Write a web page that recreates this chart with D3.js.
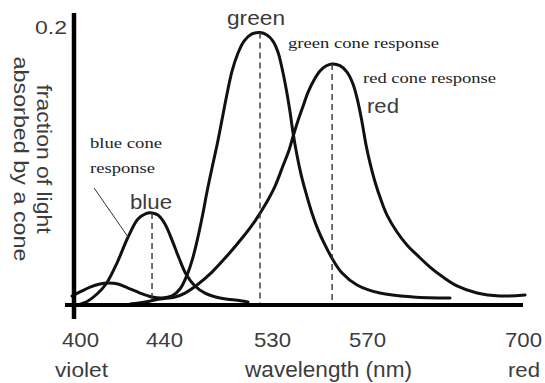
<!DOCTYPE html>
<html>
<head>
<meta charset="utf-8">
<script src="https://cdn.jsdelivr.net/npm/d3@7/dist/d3.min.js"></script>
<style>
  html, body { margin: 0; padding: 0; background: #fff; }
  svg { display: block; }
</style>
</head>
<body>
<svg id="chart" width="545" height="383"></svg>
<script>
// ---------------- data (wavelength nm, fraction absorbed) ----------------
const xTicks = [400, 440, 530, 570, 700];
const yTicks = [0.2];

const blueWave = [399.0, 403.8, 408.1, 412.4, 417.6, 422.9, 427.6, 431.4, 434.3, 437.1, 440.8, 446.7, 452.5, 458.3, 465.8, 474.2, 486.7, 499.2, 510.0];
const blueVal  = [0.0000, 0.0029, 0.0079, 0.0151, 0.0302, 0.0489, 0.0618, 0.0658, 0.0662, 0.0647, 0.0583, 0.0467, 0.0338, 0.0223, 0.0137, 0.0086, 0.0050, 0.0036, 0.0022];

const greenWave = [396.2, 400.0, 404.8, 409.5, 413.3, 418.1, 422.9, 428.6, 434.3, 439.0, 446.7, 453.3, 459.2, 464.2, 468.3, 472.5, 475.8, 480.0, 484.2, 488.3, 492.5, 496.7, 501.7, 506.7, 513.3, 520.0, 525.8, 530.4, 532.5, 534.2, 535.9, 537.6, 538.8, 540.5, 542.2, 544.3, 546.8, 549.4, 552.3, 555.7, 559.5, 565.8, 580.8, 608.3, 639.2];
const greenVal  = [0.0065, 0.0094, 0.0129, 0.0151, 0.0158, 0.0151, 0.0122, 0.0086, 0.0058, 0.0050, 0.0065, 0.0115, 0.0216, 0.0345, 0.0489, 0.0662, 0.0813, 0.0986, 0.1151, 0.1331, 0.1518, 0.1683, 0.1813, 0.1899, 0.1950, 0.1960, 0.1942, 0.1899, 0.1820, 0.1705, 0.1561, 0.1388, 0.1245, 0.1079, 0.0942, 0.0806, 0.0662, 0.0540, 0.0432, 0.0324, 0.0230, 0.0144, 0.0086, 0.0058, 0.0050];

const redWave = [423.8, 431.0, 438.1, 449.2, 457.5, 467.5, 480.0, 492.5, 505.8, 515.8, 524.2, 531.3, 534.6, 537.2, 538.8, 540.9, 543.1, 545.2, 547.7, 550.2, 552.7, 555.3, 558.6, 561.6, 564.1, 566.2, 567.9, 569.6, 572.5, 576.7, 581.7, 586.7, 595.0, 603.3, 612.5, 622.5, 633.3, 645.0, 661.7, 680.8, 701.7];
const redVal  = [0.0007, 0.0022, 0.0043, 0.0058, 0.0086, 0.0144, 0.0237, 0.0353, 0.0489, 0.0604, 0.0719, 0.0856, 0.1000, 0.1115, 0.1209, 0.1324, 0.1432, 0.1532, 0.1619, 0.1683, 0.1719, 0.1734, 0.1722, 0.1676, 0.1590, 0.1460, 0.1317, 0.1151, 0.1022, 0.0885, 0.0755, 0.0647, 0.0525, 0.0432, 0.0353, 0.0273, 0.0201, 0.0137, 0.0086, 0.0065, 0.0072];

// peak markers (dashed lines): wavelength, value
const peakWave = [434.3, 520.0, 555.3];
const peakVal  = [0.0662, 0.1960, 0.1734];

// leader line for "blue cone response" (data units)
const leaderWave = [406.7, 422.9];
const leaderVal  = [0.0842, 0.0489];

// ---------------- layout ----------------
const svg = d3.select("#chart");
const axisY0 = 305;      // pixel of value 0
const axisX0 = 74;       // y axis position

// wavelength axis in the original is not linear: piecewise scale through tick labels
const x = d3.scaleLinear()
  .domain(xTicks)
  .range([80, 164, 272, 367, 523]);
const y = d3.scaleLinear().domain([0, 0.2]).range([axisY0, 27]);

const sans = "'Liberation Sans', Arial, Helvetica, sans-serif";
const serif = "'Liberation Serif', 'Times New Roman', serif";
const grey = "#3c3c3c";

// curves
const line = d3.line().x(d => x(d[0])).y(d => y(d[1])).curve(d3.curveCatmullRom.alpha(0.5));
const series = [
  d3.zip(blueWave, blueVal),
  d3.zip(greenWave, greenVal),
  d3.zip(redWave, redVal)
];
svg.append("g").selectAll("path").data(series).join("path")
  .attr("d", line)
  .attr("fill", "none")
  .attr("stroke", "#111")
  .attr("stroke-width", 3)
  .attr("stroke-linejoin", "round")
  .attr("stroke-linecap", "round");

// dashed peak lines
svg.append("g").selectAll("line").data(d3.zip(peakWave, peakVal)).join("line")
  .attr("x1", d => x(d[0])).attr("x2", d => x(d[0]))
  .attr("y1", d => y(d[1])).attr("y2", y(0))
  .attr("stroke", "#333").attr("stroke-width", 1.4)
  .attr("stroke-dasharray", "6,4");

// leader line
svg.append("line")
  .attr("x1", x(leaderWave[0])).attr("y1", y(leaderVal[0]))
  .attr("x2", x(leaderWave[1])).attr("y2", y(leaderVal[1]))
  .attr("stroke", "#333").attr("stroke-width", 1);

// axes lines
svg.append("line")
  .attr("x1", 65).attr("x2", x(700)).attr("y1", axisY0).attr("y2", axisY0)
  .attr("stroke", "#000").attr("stroke-width", 4);
svg.append("line")
  .attr("x1", axisX0).attr("x2", axisX0).attr("y1", 13).attr("y2", 319)
  .attr("stroke", "#000").attr("stroke-width", 4.5);

// x tick labels
const xAxis = svg.append("g").attr("transform", `translate(0,${axisY0})`)
  .call(d3.axisBottom(x).tickValues(xTicks).tickSize(0).tickFormat(d3.format("d")));
xAxis.select(".domain").remove();
xAxis.selectAll("text")
  .attr("y", 42).attr("dy", 0)
  .attr("font-family", sans).attr("font-size", 21).attr("fill", grey)
  .attr("textLength", 37).attr("lengthAdjust", "spacingAndGlyphs");

// y tick label
const yAxis = svg.append("g").attr("transform", `translate(${axisX0},0)`)
  .call(d3.axisLeft(y).tickValues(yTicks).tickSize(0).tickPadding(7).tickFormat(d3.format(".1f")));
yAxis.select(".domain").remove();
yAxis.selectAll("text")
  .attr("font-family", sans).attr("font-size", 19).attr("fill", grey)
  .attr("textLength", 32).attr("lengthAdjust", "spacingAndGlyphs");

// text labels
const labels = [
  {t: "violet", x: 55, y: 377, len: 53, f: sans, s: 21, c: grey},
  {t: "wavelength (nm)", x: 245, y: 377, len: 167, f: sans, s: 22, c: grey},
  {t: "red", x: 508, y: 377, len: 32, f: sans, s: 21, c: grey},
  {t: "blue", x: 130, y: 209, len: 42, f: sans, s: 20, c: grey},
  {t: "green", x: 227, y: 25, len: 58, f: sans, s: 21, c: grey},
  {t: "red", x: 367, y: 113, len: 32, f: sans, s: 21, c: grey},
  {t: "blue cone", x: 90, y: 148, len: 72, f: serif, s: 15, c: "#1d1d1d"},
  {t: "response", x: 90, y: 173, len: 65, f: serif, s: 15, c: "#1d1d1d"},
  {t: "green cone response", x: 288, y: 48, len: 151, f: serif, s: 15, c: "#1d1d1d"},
  {t: "red cone response", x: 363, y: 83, len: 133, f: serif, s: 15, c: "#1d1d1d"}
];
svg.append("g").selectAll("text").data(labels).join("text")
  .attr("x", d => d.x).attr("y", d => d.y)
  .attr("font-family", d => d.f).attr("font-size", d => d.s).attr("fill", d => d.c)
  .attr("textLength", d => d.len).attr("lengthAdjust", "spacingAndGlyphs")
  .text(d => d.t);

// rotated y axis title (reads top to bottom)
const yTitle = [
  {t: "fraction of light", bx: 37, len: 149},
  {t: "absorbed by a cone", bx: 14, len: 205}
];
svg.append("g").selectAll("text").data(yTitle).join("text")
  .attr("transform", d => `translate(${d.bx},159) rotate(90)`)
  .attr("text-anchor", "middle")
  .attr("font-family", sans).attr("font-size", 21).attr("fill", grey)
  .attr("textLength", d => d.len).attr("lengthAdjust", "spacingAndGlyphs")
  .text(d => d.t);
</script>
</body>
</html>
